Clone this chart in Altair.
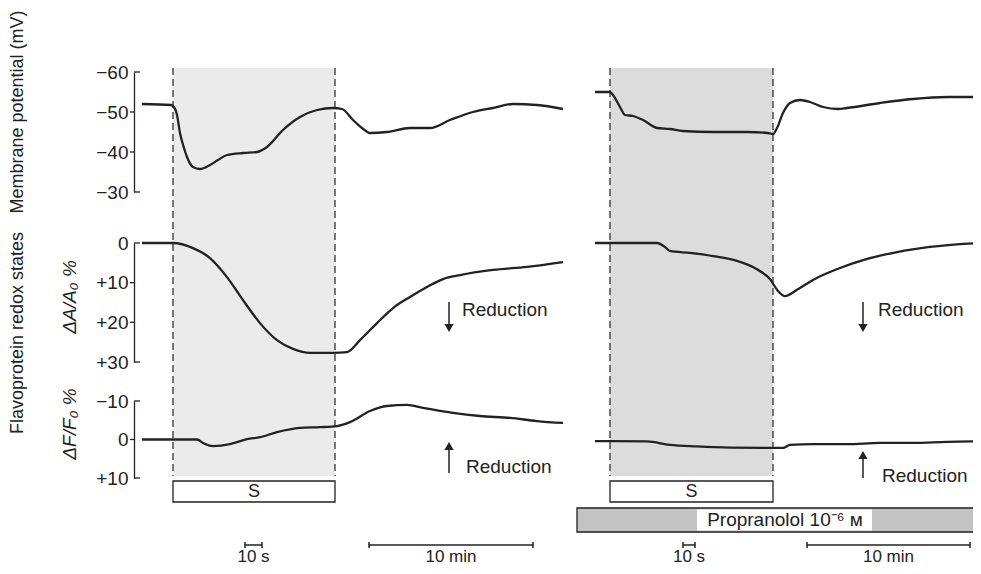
import altair as alt
import pandas as pd

# ---------------- data ----------------
# x = position along the chart recording (time base is broken: fast sweep in the
# stimulus window, slow sweep afterwards), y = measured value.
mem_left_x = [142, 171, 174, 177, 180, 184, 187, 193, 200, 210, 218, 227, 243, 257, 267, 283,
              300, 317, 333, 342, 353, 362, 370, 387, 410, 430, 450, 473, 493, 513, 537, 563]
mem_left_mv = [-52.0, -51.75, -51.25, -49.25, -44.75, -41, -38.75, -36.25, -35.75, -36.75, -38,
               -39.25, -39.75, -40, -41.25, -45.5, -48.75, -50.5, -51, -50.75, -48, -46, -44.75,
               -45, -46, -46, -48, -50, -51, -52, -51.75, -50.75]
mem_right_x = [595, 610, 613, 620, 625, 633, 643, 657, 670, 683, 713, 747, 768, 773, 777, 783,
               790, 800, 810, 823, 838, 847, 880, 913, 947, 980]
mem_right_mv = [-55, -55, -54.25, -51.25, -49.25, -49, -48, -46, -45.75, -45.25, -45, -45,
                -44.75, -44.5, -46, -49.75, -52.25, -53, -52.5, -51.25, -50.75, -51, -52.25,
                -53.25, -53.75, -53.75]

dA_left_x = [142, 173, 193, 210, 227, 243, 260, 277, 293, 310, 333, 347, 360, 377, 393, 410,
             427, 443, 460, 493, 527, 563]
dA_left_pct = [0, 0, 1.3, 3.8, 8.6, 14.4, 20.2, 24.5, 26.7, 27.7, 27.7, 27.5, 24.5, 20.2, 16.4,
               13.6, 11.1, 9.1, 8.1, 6.8, 6.0, 4.8]
dA_right_x = [595, 610, 657, 665, 670, 690, 713, 737, 757, 770, 778, 785, 797, 813, 840, 863,
              897, 930, 980]
dA_right_pct = [0, 0, 0, 1.0, 2.0, 2.5, 3.3, 4.5, 6.6, 9.1, 12.1, 13.4, 11.8, 9.3, 6.3, 4.3,
                2.3, 1.0, 0]

dF_left_x = [142, 197, 203, 213, 230, 247, 260, 277, 300, 320, 337, 350, 370, 387, 407, 423,
             453, 480, 510, 537, 563]
dF_left_pct = [0, 0, 0.9, 1.7, 1.2, -0.1, -0.6, -1.9, -3.0, -3.2, -3.5, -4.5, -7.4, -8.7, -9.0,
               -8.2, -6.9, -6.1, -5.6, -4.8, -4.3]
dF_right_x = [595, 610, 647, 670, 697, 730, 773, 783, 790, 813, 847, 880, 913, 947, 980]
dF_right_pct = [0.4, 0.4, 0.5, 1.4, 1.8, 2.1, 2.2, 2.2, 1.4, 1.2, 1.2, 0.9, 0.9, 0.6, 0.5]

mem_ticks = [-60, -50, -40, -30]
dA_ticks = [0, 10, 20, 30]
dF_ticks = [-10, 0, 10]

stim_start = [173, 610]
stim_end = [335, 773]
stim_label = ["S", "S"]
drug_start = [577]
drug_label = ["Propranolol 10\u207b\u2076 \u1d0d"]
bar_start = [245, 369, 683, 807]
bar_end = [262, 533, 695, 970]
bar_label = ["10 s", "10 min", "10 s", "10 min"]
reduction_label = "Reduction"

# ---------------- styling / layout ----------------
W, H = 965, 558
INK = "#222222"
FONT = "Liberation Sans"
AXIS_X = 134

xs = alt.Scale(domain=[8, 973], nice=False, zero=False)


def X(field):
    return alt.X(field, type="quantitative", scale=xs, axis=None)


def LY(field):
    return alt.Y(field, type="quantitative",
                 scale=alt.Scale(domain=[8, 566], range=[0, 558], nice=False, zero=False),
                 axis=None)


def trace_layers(xl, vl, xr, vr, ticks, rng):
    df = pd.DataFrame({"x": xl + xr, "v": vl + vr,
                       "panel": ["L"] * len(xl) + ["R"] * len(xr)})

    def sc():
        return alt.Scale(domain=[ticks[0], ticks[-1]], range=rng, nice=False, zero=False)

    ax = alt.Axis(orient="left", offset=-(AXIS_X - 8), values=ticks, grid=False, ticks=False,
                  domain=True, domainColor=INK, domainWidth=1.3, labelFont=FONT,
                  labelFontSize=19, labelColor=INK, labelPadding=6, title="",
                  labelExpr="datum.value > 0 ? '+' + datum.label : datum.label")
    line = alt.Chart(df).mark_line(interpolate="monotone", color=INK, strokeWidth=2.3).encode(
        x=X("x:Q"), y=alt.Y("v:Q", scale=sc(), axis=ax), detail="panel:N")
    mid_df = pd.DataFrame({"v": ticks[1:-1], "a": AXIS_X - 4, "b": AXIS_X})
    mid = alt.Chart(mid_df).mark_rule(color=INK, strokeWidth=1.3).encode(
        x=X("a:Q"), x2="b:Q", y=alt.Y("v:Q", scale=sc(), axis=None))
    end_df = pd.DataFrame({"v": [ticks[0], ticks[-1]], "a": AXIS_X, "b": AXIS_X + 6})
    ends = alt.Chart(end_df).mark_rule(color=INK, strokeWidth=1.3).encode(
        x=X("a:Q"), x2="b:Q", y=alt.Y("v:Q", scale=sc(), axis=None))
    return [line, mid, ends]


mem = trace_layers(mem_left_x, mem_left_mv, mem_right_x, mem_right_mv, mem_ticks, [64, 184])
dA = trace_layers(dA_left_x, dA_left_pct, dA_right_x, dA_right_pct, dA_ticks, [235, 354])
dF = trace_layers(dF_left_x, dF_left_pct, dF_right_x, dF_right_pct, dF_ticks, [393, 470])

# ---- background: stimulus shading and dashed markers ----
shade_df = pd.DataFrame({"x1": stim_start, "x2": stim_end, "y1": [68, 68], "y2": [476, 476],
                         "fill": ["#ebebeb", "#dcdcdc"]})
shade = alt.Chart(shade_df).mark_rect().encode(
    x=X("x1:Q"), x2="x2:Q", y=LY("y1:Q"), y2="y2:Q", color=alt.Color("fill:N", scale=None))
dash_df = pd.DataFrame({"x": stim_start + stim_end, "y1": [68] * 4, "y2": [476] * 4})
dashes = alt.Chart(dash_df).mark_rule(color=INK, strokeWidth=1.2, strokeDash=[7, 4]).encode(
    x=X("x:Q"), y=LY("y1:Q"), y2="y2:Q")

# ---- foreground annotations ----
sbox_df = pd.DataFrame({"x1": stim_start, "x2": stim_end, "y1": [481, 481], "y2": [502, 502],
                        "label": stim_label})
sbox_df["xc"] = [(a + b) / 2 for a, b in zip(stim_start, stim_end)]
sbox_df["yc"] = 491.5
sbox = alt.Chart(sbox_df).mark_rect(fill="white", stroke=INK, strokeWidth=1.3).encode(
    x=X("x1:Q"), x2="x2:Q", y=LY("y1:Q"), y2="y2:Q")
stext = alt.Chart(sbox_df).mark_text(font=FONT, fontSize=18, color=INK,
                                     baseline="middle").encode(
    x=X("xc:Q"), y=LY("yc:Q"), text="label:N")

drug_df = pd.DataFrame({"x1": drug_start, "x2": [990], "y1": [508], "y2": [532]})
drug = alt.Chart(drug_df).mark_rect(fill="#c3c3c3", stroke=INK, strokeWidth=1.3).encode(
    x=X("x1:Q"), x2="x2:Q", y=LY("y1:Q"), y2="y2:Q")
drug_lbl_df = pd.DataFrame({"x1": [697], "x2": [872], "y1": [509.5], "y2": [530.5],
                            "xc": [785], "yc": [520], "label": drug_label})
drug_bg = alt.Chart(drug_lbl_df).mark_rect(fill="white").encode(
    x=X("x1:Q"), x2="x2:Q", y=LY("y1:Q"), y2="y2:Q")
drug_txt = alt.Chart(drug_lbl_df).mark_text(font=FONT, fontSize=19, color=INK,
                                             baseline="middle").encode(
    x=X("xc:Q"), y=LY("yc:Q"), text="label:N")

bar_df = pd.DataFrame({"x1": bar_start, "x2": bar_end, "y": [545] * 4,
                       "xc": [(a + b) / 2 for a, b in zip(bar_start, bar_end)],
                       "yt": [556.5] * 4, "label": bar_label})
bars = alt.Chart(bar_df).mark_rule(color=INK, strokeWidth=1.5).encode(
    x=X("x1:Q"), x2="x2:Q", y=LY("y:Q"))
cap_df = pd.DataFrame({"x": bar_start + bar_end, "y1": [542] * 8, "y2": [548] * 8})
caps = alt.Chart(cap_df).mark_rule(color=INK, strokeWidth=1.5).encode(
    x=X("x:Q"), y=LY("y1:Q"), y2="y2:Q")
bar_txt = alt.Chart(bar_df).mark_text(font=FONT, fontSize=17, color=INK,
                                      baseline="middle").encode(
    x=X("xc:Q"), y=LY("yt:Q"), text="label:N")

arrow_df = pd.DataFrame({"x": [449, 863, 449, 863],
                         "s1": [302, 302, 450, 459], "s2": [324, 324, 473, 478],
                         "hy": [328, 328, 446, 455],
                         "tx": [462, 878, 466, 882], "ty": [310, 310, 467, 476],
                         "label": [reduction_label] * 4})
shafts = alt.Chart(arrow_df).mark_rule(color=INK, strokeWidth=1.5).encode(
    x=X("x:Q"), y=LY("s1:Q"), y2="s2:Q")
heads_down = alt.Chart(arrow_df.iloc[:2]).mark_point(
    filled=True, size=85, color=INK, opacity=1, shape="triangle-down").encode(
    x=X("x:Q"), y=LY("hy:Q"))
heads_up = alt.Chart(arrow_df.iloc[2:]).mark_point(
    filled=True, size=85, color=INK, opacity=1, shape="triangle-up").encode(
    x=X("x:Q"), y=LY("hy:Q"))
red_txt = alt.Chart(arrow_df).mark_text(font=FONT, fontSize=19, color=INK, align="left",
                                        baseline="middle").encode(
    x=X("tx:Q"), y=LY("ty:Q"), text="label:N")

title_df = pd.DataFrame({"x": [18, 18], "y": [112, 333],
                         "label": ["Membrane potential (mV)", "Flavoprotein redox states"]})
titles = alt.Chart(title_df).mark_text(font=FONT, fontSize=18, color=INK, angle=270,
                                       baseline="middle").encode(
    x=X("x:Q"), y=LY("y:Q"), text="label:N")
sub_df = pd.DataFrame({"x": [70, 70], "y": [297, 424],
                       "label": ["\u0394A/A\u2080 %", "\u0394F/F\u2080 %"]})
subtitles = alt.Chart(sub_df).mark_text(font=FONT, fontSize=19, color=INK, angle=270,
                                        fontStyle="italic", baseline="middle").encode(
    x=X("x:Q"), y=LY("y:Q"), text="label:N")

layers = ([shade, dashes] + mem + dA + dF +
          [sbox, stext, drug, drug_bg, drug_txt, bars, caps, bar_txt,
           shafts, heads_down, heads_up, red_txt, titles, subtitles])

chart = alt.layer(*layers).resolve_scale(y="independent").properties(
    width=W, height=H, padding=0, background="white",
    autosize=alt.AutoSizeParams(type="none"),
).configure_view(strokeOpacity=0)

chart.save("out.html", embed_options={"renderer": "svg", "actions": False})
